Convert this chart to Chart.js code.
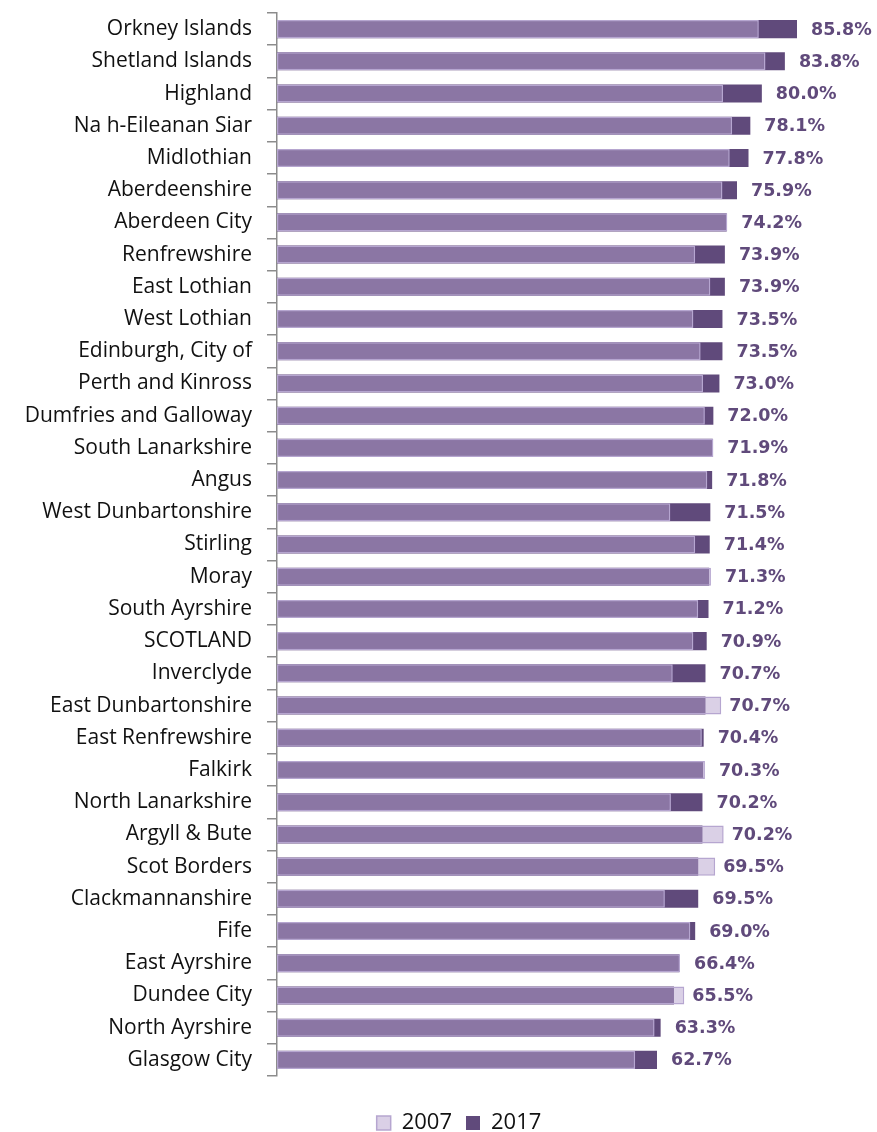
<!DOCTYPE html>
<html>
<head>
<meta charset="utf-8">
<script src="https://cdn.jsdelivr.net/npm/chart.js@4/dist/chart.umd.min.js"></script>
<style>
  html, body { margin: 0; padding: 0; background: #ffffff; }
  #wrap { width: 877px; height: 1132px; position: relative; overflow: hidden; }
</style>
</head>
<body>
<div id="wrap"><canvas id="c" width="877" height="1132"></canvas></div>
<script>
const categories = [
  "Orkney Islands", "Shetland Islands", "Highland", "Na h-Eileanan Siar", "Midlothian",
  "Aberdeenshire", "Aberdeen City", "Renfrewshire", "East Lothian", "West Lothian",
  "Edinburgh, City of", "Perth and Kinross", "Dumfries and Galloway", "South Lanarkshire", "Angus",
  "West Dunbartonshire", "Stirling", "Moray", "South Ayrshire", "SCOTLAND",
  "Inverclyde", "East Dunbartonshire", "East Renfrewshire", "Falkirk", "North Lanarkshire",
  "Argyll & Bute", "Scot Borders", "Clackmannanshire", "Fife", "East Ayrshire",
  "Dundee City", "North Ayrshire", "Glasgow City"
];
const values2017 = [
  85.8, 83.8, 80.0, 78.1, 77.8,
  75.9, 74.2, 73.9, 73.9, 73.5,
  73.5, 73.0, 72.0, 71.9, 71.8,
  71.5, 71.4, 71.3, 71.2, 70.9,
  70.7, 70.7, 70.4, 70.3, 70.2,
  70.2, 69.5, 69.5, 69.0, 66.4,
  65.5, 63.3, 62.7
];
const values2007 = [
  79.5, 80.6, 73.6, 75.1, 74.7,
  73.5, 74.3, 69.0, 71.5, 68.7,
  69.9, 70.3, 70.6, 72.0, 71.0,
  64.9, 69.0, 71.6, 69.5, 68.7,
  65.3, 73.3, 70.1, 70.6, 65.0,
  73.7, 72.3, 64.0, 68.2, 66.5,
  67.2, 62.3, 59.1
];
const seriesNames = ["2007", "2017"];

const valueLabels = {
  id: 'valueLabels',
  afterDatasetsDraw(chart) {
    const ctx = chart.ctx;
    const xs = chart.scales.x;
    const ys = chart.scales.y;
    ctx.save();
    ctx.font = 'bold 17.5px "DejaVu Sans"';
    ctx.fillStyle = '#604A7B';
    ctx.textAlign = 'left';
    ctx.textBaseline = 'middle';
    values2017.forEach((v, i) => {
      const o = values2007[i];
      let x;
      if (o > v + 0.5) x = xs.getPixelForValue(o) + 8;
      else x = xs.getPixelForValue(Math.max(v, o)) + 14;
      const y = ys.getPixelForValue(i);
      ctx.fillText(v.toFixed(1) + '%', x, y + 1);
    });
    ctx.restore();
  }
};

new Chart(document.getElementById('c'), {
  type: 'bar',
  data: {
    labels: categories,
    datasets: [
      {
        label: seriesNames[0],
        data: values2007,
        backgroundColor: 'rgba(181,161,205,0.5)',
        borderColor: '#B6A6D0',
        borderWidth: 1.5,
        borderSkipped: false,
        grouped: false,
        order: 1,
        categoryPercentage: 1,
        barPercentage: 0.56
      },
      {
        label: seriesNames[1],
        data: values2017,
        backgroundColor: '#604A7B',
        borderWidth: 0,
        grouped: false,
        order: 2,
        categoryPercentage: 1,
        barPercentage: 0.56
      }
    ]
  },
  options: {
    indexAxis: 'y',
    responsive: false,
    animation: false,
    devicePixelRatio: 1,
    layout: { padding: { top: 0, right: -41, left: 0, bottom: -12 } },
    scales: {
      x: {
        display: true,
        min: 0,
        max: 99,
        afterFit(scale) { scale.height = 22; },
        grid: { display: false },
        border: { display: false },
        ticks: { display: false }
      },
      y: {
        afterFit(scale) {
          scale.width = 277;
          scale.paddingTop = 13;
          scale.paddingBottom = 0;
        },
        grid: {
          display: true,
          drawOnChartArea: false,
          drawTicks: true,
          tickLength: 10,
          color: '#8C8C8C',
          lineWidth: 1.5,
          offset: true
        },
        border: { display: true, color: '#8C8C8C', width: 1.5 },
        ticks: {
          padding: 15,
          color: '#111111',
          font: { family: 'Open Sans', size: 21 }
        }
      }
    },
    plugins: {
      tooltip: { enabled: false },
      legend: {
        display: true,
        position: 'bottom',
        labels: {
          boxWidth: 14,
          boxHeight: 14,
          padding: 14,
          color: '#111111',
          font: { family: 'Open Sans', size: 22 }
        }
      }
    }
  },
  plugins: [valueLabels]
});
</script>
</body>
</html>
